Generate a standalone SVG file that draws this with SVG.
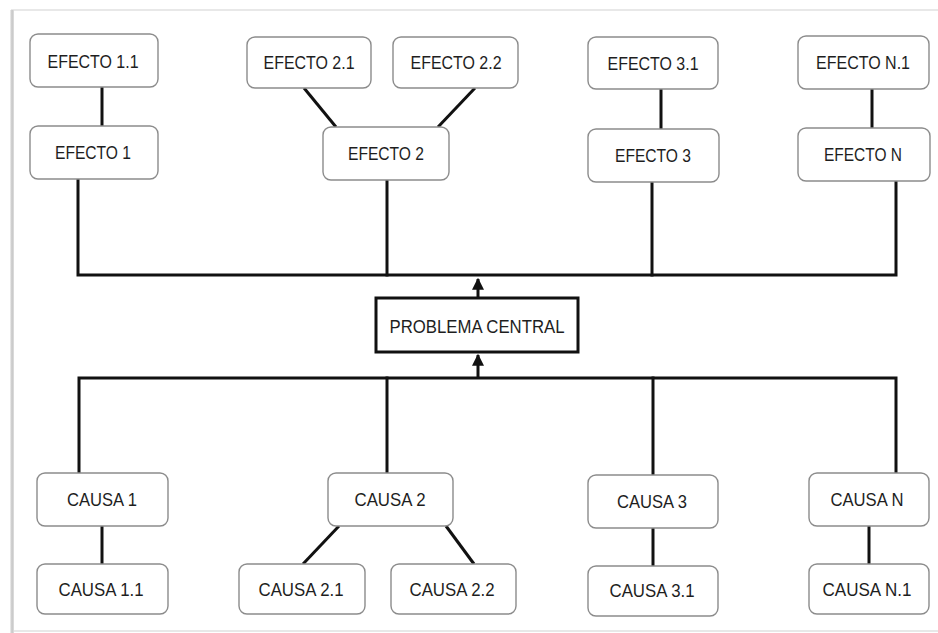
<svg xmlns="http://www.w3.org/2000/svg" width="938" height="633" viewBox="0 0 938 633">
  <defs>
    <marker id="arrow" viewBox="0 0 10 10" refX="9" refY="5" markerWidth="4" markerHeight="4" orient="auto-start-reverse" markerUnits="strokeWidth">
      <path d="M0,0 L10,5 L0,10 z" fill="#111"/>
    </marker>
    <linearGradient id="edgeShade" x1="0" x2="1" y1="0" y2="0">
      <stop offset="0" stop-color="#f2f2f2"/>
      <stop offset="0.5" stop-color="#c4c4c4"/>
      <stop offset="1" stop-color="#e0e0e0"/>
    </linearGradient>
  </defs>
  <style>
    .box { fill: #ffffff; stroke: #8c8c8c; stroke-width: 1.4; }
    .main { fill: #ffffff; stroke: #111111; stroke-width: 3; }
    .lbl { font-family: "Liberation Sans", Arial, sans-serif; font-size: 19px; fill: #1e1e1e; text-anchor: middle; }
    .wire { stroke: #111111; stroke-width: 3; fill: none; stroke-linecap: square; }
    .link { stroke: #111111; stroke-width: 3; fill: none; }
  </style>

  <!-- page background and border -->
  <rect x="0" y="0" width="938" height="633" fill="#ffffff"/>
  <rect x="12" y="10" width="940" height="621" fill="none" stroke="#e8e8e8" stroke-width="2"/>
  <rect x="10" y="10" width="4" height="623" fill="url(#edgeShade)"/>

  <!-- connectors -->
  <g id="connectors">
    <!-- effect tree -->
    <line class="link" x1="102" y1="87" x2="102" y2="126"/>
    <line class="link" x1="304" y1="88" x2="336" y2="127"/>
    <line class="link" x1="475" y1="88" x2="438" y2="127"/>
    <line class="link" x1="661" y1="89" x2="661" y2="129"/>
    <line class="link" x1="872" y1="89" x2="872" y2="128"/>
    <polyline class="wire" points="78,179 78,275 896,275 896,181"/>
    <line class="wire" x1="387" y1="180" x2="387" y2="275"/>
    <line class="wire" x1="652" y1="182" x2="652" y2="275"/>
    <line class="link" x1="478" y1="298" x2="478" y2="279" stroke-width="2.5" marker-end="url(#arrow)"/>
    <!-- cause tree -->
    <polyline class="wire" points="79,473 79,378 896,378 896,473"/>
    <line class="wire" x1="387" y1="378" x2="387" y2="473"/>
    <line class="wire" x1="653" y1="378" x2="653" y2="475"/>
    <line class="link" x1="478" y1="378" x2="478" y2="355" stroke-width="2.5" marker-end="url(#arrow)"/>
    <line class="link" x1="102" y1="526" x2="102" y2="564"/>
    <line class="link" x1="339" y1="526" x2="303" y2="564"/>
    <line class="link" x1="446" y1="526" x2="474" y2="564"/>
    <line class="link" x1="653" y1="528" x2="653" y2="566"/>
    <line class="link" x1="869" y1="526" x2="869" y2="564"/>
  </g>

  <!-- effects -->
  <g id="efecto-1-1"><rect class="box" x="30" y="34" width="128" height="53" rx="8"/><text class="lbl" x="93" y="68" textLength="91" lengthAdjust="spacingAndGlyphs">EFECTO 1.1</text></g>
  <g id="efecto-1"><rect class="box" x="30" y="126" width="128" height="53" rx="8"/><text class="lbl" x="93" y="159" textLength="76" lengthAdjust="spacingAndGlyphs">EFECTO 1</text></g>
  <g id="efecto-2-1"><rect class="box" x="247" y="37" width="124" height="51" rx="8"/><text class="lbl" x="309" y="69" textLength="91" lengthAdjust="spacingAndGlyphs">EFECTO 2.1</text></g>
  <g id="efecto-2-2"><rect class="box" x="393" y="37" width="125" height="51" rx="8"/><text class="lbl" x="456" y="69" textLength="91" lengthAdjust="spacingAndGlyphs">EFECTO 2.2</text></g>
  <g id="efecto-2"><rect class="box" x="323" y="127" width="126" height="53" rx="8"/><text class="lbl" x="386" y="160" textLength="76" lengthAdjust="spacingAndGlyphs">EFECTO 2</text></g>
  <g id="efecto-3-1"><rect class="box" x="588" y="37" width="130" height="52" rx="8"/><text class="lbl" x="653" y="70" textLength="91" lengthAdjust="spacingAndGlyphs">EFECTO 3.1</text></g>
  <g id="efecto-3"><rect class="box" x="588" y="129" width="131" height="53" rx="8"/><text class="lbl" x="653" y="162" textLength="76" lengthAdjust="spacingAndGlyphs">EFECTO 3</text></g>
  <g id="efecto-n-1"><rect class="box" x="798" y="36" width="131" height="53" rx="8"/><text class="lbl" x="863" y="69" textLength="94" lengthAdjust="spacingAndGlyphs">EFECTO N.1</text></g>
  <g id="efecto-n"><rect class="box" x="798" y="128" width="132" height="53" rx="8"/><text class="lbl" x="863" y="161" textLength="78" lengthAdjust="spacingAndGlyphs">EFECTO N</text></g>

  <!-- central problem -->
  <g id="problema-central"><rect class="main" x="376" y="298" width="202" height="54"/><text class="lbl" x="477" y="333" textLength="175" lengthAdjust="spacingAndGlyphs">PROBLEMA CENTRAL</text></g>

  <!-- causes -->
  <g id="causa-1"><rect class="box" x="37" y="473" width="131" height="53" rx="8"/><text class="lbl" x="102" y="506" textLength="70" lengthAdjust="spacingAndGlyphs">CAUSA 1</text></g>
  <g id="causa-2"><rect class="box" x="328" y="473" width="125" height="53" rx="8"/><text class="lbl" x="390" y="506" textLength="71" lengthAdjust="spacingAndGlyphs">CAUSA 2</text></g>
  <g id="causa-3"><rect class="box" x="588" y="475" width="130" height="53" rx="8"/><text class="lbl" x="652" y="508" textLength="70" lengthAdjust="spacingAndGlyphs">CAUSA 3</text></g>
  <g id="causa-n"><rect class="box" x="809" y="473" width="120" height="53" rx="8"/><text class="lbl" x="867" y="506" textLength="73" lengthAdjust="spacingAndGlyphs">CAUSA N</text></g>
  <g id="causa-1-1"><rect class="box" x="37" y="564" width="131" height="50" rx="8"/><text class="lbl" x="101" y="596" textLength="85" lengthAdjust="spacingAndGlyphs">CAUSA 1.1</text></g>
  <g id="causa-2-1"><rect class="box" x="239" y="564" width="126" height="50" rx="8"/><text class="lbl" x="301" y="596" textLength="85" lengthAdjust="spacingAndGlyphs">CAUSA 2.1</text></g>
  <g id="causa-2-2"><rect class="box" x="391" y="564" width="125" height="50" rx="8"/><text class="lbl" x="452" y="596" textLength="85" lengthAdjust="spacingAndGlyphs">CAUSA 2.2</text></g>
  <g id="causa-3-1"><rect class="box" x="588" y="566" width="130" height="50" rx="8"/><text class="lbl" x="652" y="597" textLength="85" lengthAdjust="spacingAndGlyphs">CAUSA 3.1</text></g>
  <g id="causa-n-1"><rect class="box" x="809" y="564" width="120" height="50" rx="8"/><text class="lbl" x="867" y="596" textLength="89" lengthAdjust="spacingAndGlyphs">CAUSA N.1</text></g>
</svg>
